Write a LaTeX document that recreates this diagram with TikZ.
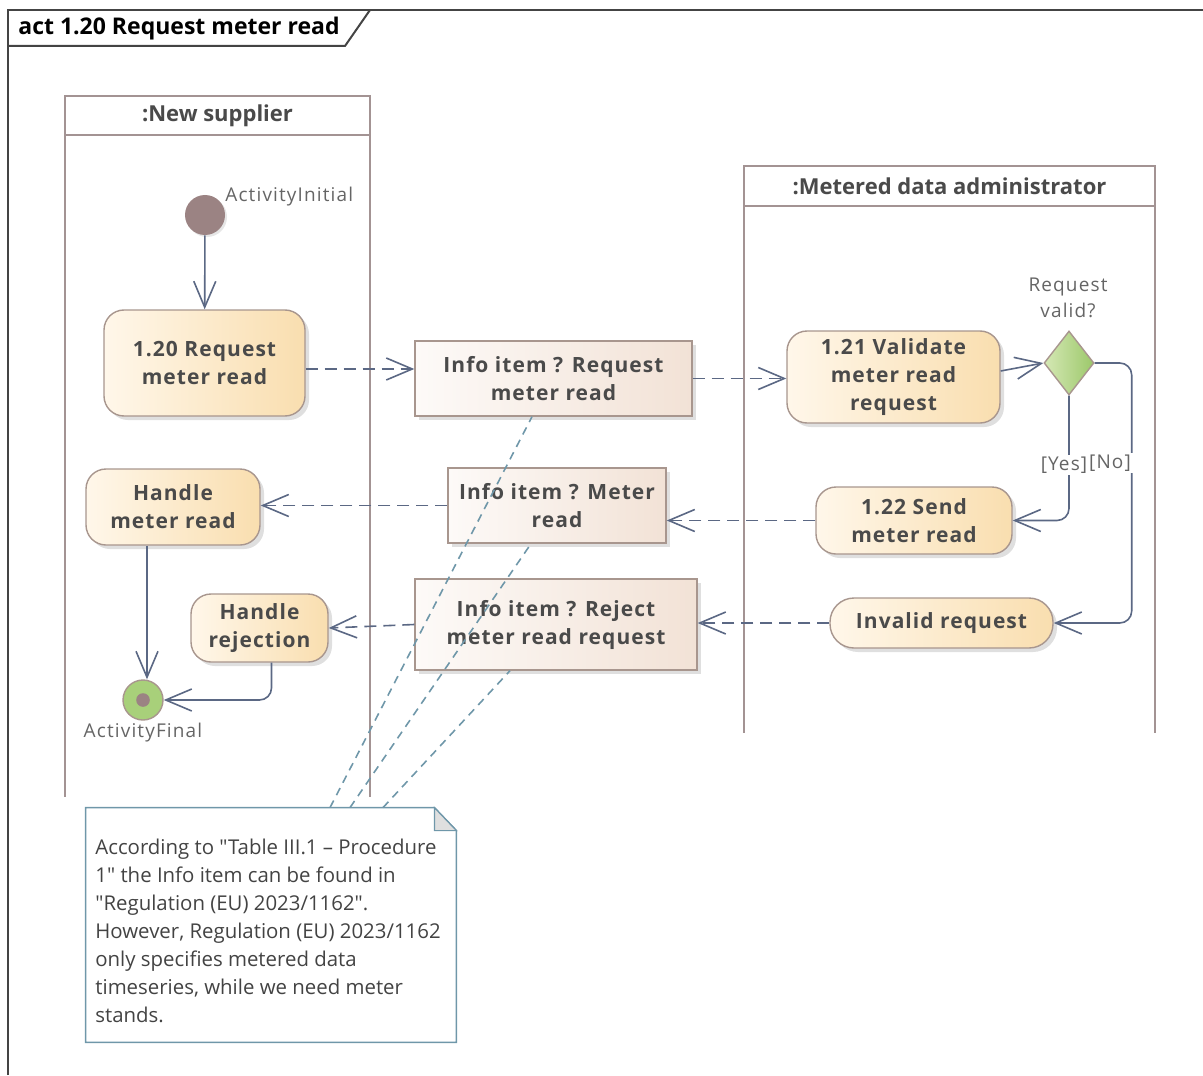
\documentclass[tikz,border=0pt]{standalone}
\usepackage{fontspec}
\setmainfont{Open Sans}[Ligatures=TeXOff]
\usetikzlibrary{arrows.meta,shapes.geometric,shadows}
\definecolor{flow}{HTML}{5B6884}
\definecolor{actborder}{HTML}{A8968E}
\definecolor{lanegray}{HTML}{A39393}
\definecolor{notecol}{HTML}{6F97A9}
\definecolor{txt}{HTML}{4A4A4A}
\definecolor{framecol}{HTML}{444444}
\definecolor{initcol}{HTML}{9B8383}
\definecolor{actleft}{HTML}{FFF7EA}
\definecolor{actright}{HTML}{F9DEAF}
\definecolor{infoleft}{HTML}{FDFAF8}
\definecolor{inforight}{HTML}{F2E2D6}
\definecolor{decleft}{HTML}{D5E8B5}
\definecolor{decright}{HTML}{9CC86A}
\definecolor{finalcol}{HTML}{A8D07A}
\tikzset{
  action/.style={rectangle, rounded corners=10pt, draw=actborder, line width=0.7pt,
    left color=actleft, right color=actright, text=txt, align=center,
    font=\bfseries\fontsize{10.5}{14}\selectfont\addfontfeatures{LetterSpace=5}, inner sep=2pt,
    drop shadow={shadow xshift=2pt, shadow yshift=-2pt, opacity=0.25}},
  info/.style={rectangle, draw=actborder, line width=0.7pt,
    left color=infoleft, right color=inforight, text=txt, align=center,
    font=\bfseries\fontsize{10.5}{14}\selectfont\addfontfeatures{LetterSpace=5}, inner sep=2pt,
    drop shadow={shadow xshift=2pt, shadow yshift=-2pt, opacity=0.25}},
  flowline/.style={draw=flow, line width=0.8pt, -{Straight Barb[length=13pt,width=11pt]}},
  objflow/.style={flowline, dash pattern=on 6pt off 3.5pt},
  notelink/.style={draw=notecol, line width=0.8pt, dash pattern=on 4pt off 3pt},
  lanehead/.style={rectangle, draw=lanegray, line width=1.2pt, fill=white, text=txt,
    outer sep=0pt, font=\bfseries\fontsize{11}{12}\selectfont},
  laneline/.style={draw=lanegray, line width=1.4pt},
  lbl/.style={text=txt!85, font=\fontsize{9.5}{13}\selectfont\addfontfeatures{LetterSpace=6}, inner sep=1pt, align=center}
}
\begin{document}
\begin{tikzpicture}[x=0.5pt, y=-0.5pt]
\useasboundingbox (0,0) rectangle (1203,1075);
\draw[framecol, line width=1pt] (8,1075) -- (8,10) -- (1203,10);
\draw[framecol, line width=1pt] (8,46) -- (345,46) -- (370,10);
\node[anchor=west, inner sep=0, font=\bfseries\fontsize{11.5}{12}\selectfont] (title) at (18,29) {act 1.20 Request meter read};

\node[lanehead, minimum width=152.5pt, minimum height=19.5pt] (laneNS) at (217.5,115.5) {:New supplier};
\draw[laneline] (laneNS.south west) -- ++(0,662);
\draw[laneline] (laneNS.south east) -- ++(0,662);
\node[lanehead, minimum width=205.5pt, minimum height=20pt] (laneMDA) at (949.5,186) {:Metered data administrator};
\draw[laneline] (laneMDA.south west) -- ++(0,527);
\draw[laneline] (laneMDA.south east) -- ++(0,527);

\node[circle, fill=initcol, minimum size=20pt, inner sep=0,
  drop shadow={shadow xshift=1pt, shadow yshift=-1pt, opacity=0.2}] (init) at (205,215) {};
\node[lbl, anchor=west] (initLbl) at (223,197) {ActivityInitial};

\node[action, minimum width=100.5pt, minimum height=53pt] (act120) at (204.5,363) {1.20 Request\\meter read};
\node[info, minimum width=138.5pt, minimum height=37.5pt] (infoReq) at (553.5,378.5) {Info item ? Request\\meter read};
\node[action, minimum width=106.5pt, minimum height=46pt] (act121) at (893.5,377) {1.21 Validate\\meter read\\request};
\node[diamond, draw=actborder, line width=0.7pt, left color=decleft, right color=decright,
  minimum width=25pt, minimum height=32pt, inner sep=0] (dec) at (1069,363) {};
\node[lbl] (decLbl) at (1068,298) {Request\\valid?};
\node[action, minimum width=98pt, minimum height=33.5pt] (act122) at (914,520.5) {1.22 Send\\meter read};
\node[info, minimum width=109pt, minimum height=37.5pt] (infoMeter) at (557,505.5) {Info item ? Meter\\read};
\node[action, minimum width=87pt, minimum height=38pt] (handleMR) at (173,507) {Handle\\meter read};
\node[action, rounded corners=12pt, minimum width=111.5pt, minimum height=25pt] (invalid) at (941.5,623) {Invalid request};
\node[info, minimum width=141pt, minimum height=45.5pt] (infoRej) at (556,624.5) {Info item ? Reject\\meter read request};
\node[action, minimum width=68.5pt, minimum height=34pt] (handleRej) at (259.5,628) {Handle\\rejection};
\node[circle, draw=actborder, line width=0.7pt, fill=finalcol, minimum size=20pt, inner sep=0] (final) at (143,700) {};
\fill[initcol] (final) circle (3.4pt);
\node[lbl] (finalLbl) at (143,733) {ActivityFinal};

\draw[flowline] (init) -- (act120);
\draw[objflow] ([yshift=-3pt]act120.east) -- ([yshift=-3pt]act120.east -| infoReq.west);
\draw[objflow] (infoReq.east) -- (infoReq.east -| act121.west);
\draw[flowline] ([yshift=3pt]act121.east) -- (dec.west);
\draw[flowline, rounded corners=6pt] (dec.south) |- (act122.east);
\draw[flowline, rounded corners=6pt] (dec.east) -- ++(37,0) |- (invalid.east);
\node[lbl, fill=white] (yesLbl) at (1064,465) {[Yes]};
\node[lbl, fill=white] (noLbl) at (1110,463) {[No]};
\draw[objflow] (act122.west) -- (act122.west -| infoMeter.east);
\draw[objflow] (infoMeter.west) -- (infoMeter.west -| handleMR.east);
\draw[objflow] (invalid.west) -- (invalid.west -| infoRej.east);
\draw[objflow] (infoRej.west) -- (handleRej.east);
\draw[flowline] ([xshift=2pt]final |- handleMR.south) -- ([xshift=2pt]final.north);
\draw[flowline, rounded corners=6pt] ([xshift=6pt]handleRej.south) |- (final.east);

\node[minimum width=185pt, minimum height=117pt, inner sep=0] (noteBox) at (271,925) {};
\draw[notecol, line width=0.8pt] (noteBox.north west) -- ([xshift=-11pt]noteBox.north east) -- ([yshift=-11.5pt]noteBox.north east) -- (noteBox.south east) -- (noteBox.south west) -- cycle;
\filldraw[draw=notecol, fill=gray!25, line width=0.6pt] ([xshift=-11pt]noteBox.north east) -- ([xshift=-11pt,yshift=-11.5pt]noteBox.north east) -- ([yshift=-11.5pt]noteBox.north east) -- cycle;
\node[anchor=north west, inner sep=0, align=left, text=txt!90!black,
  font=\fontsize{10.2}{14}\selectfont] (note) at (95,839)
  {According to "Table III.1 – Procedure\\1" the Info item can be found in\\"Regulation (EU) 2023/1162".\\However, Regulation (EU) 2023/1162\\only specifies metered data\\timeseries, while we need meter\\stands.};
\draw[notelink] ([xshift=29.5pt]noteBox.north) -- ([xshift=-10.75pt]infoReq.south);
\draw[notelink] ([xshift=39.5pt]noteBox.north) -- ([xshift=-13pt]infoMeter.south);
\draw[notelink] ([xshift=56pt]noteBox.north) -- ([xshift=-23pt]infoRej.south);
\end{tikzpicture}
\end{document}
